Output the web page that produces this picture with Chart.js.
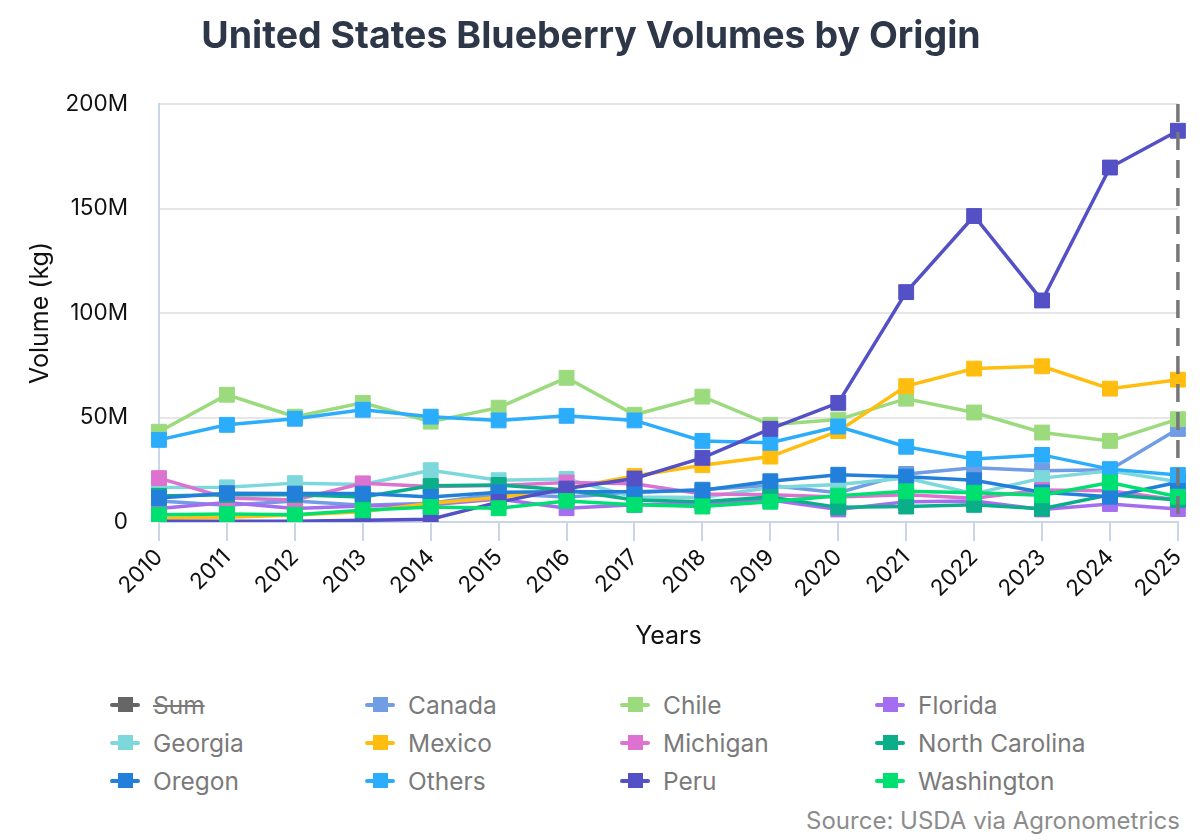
<!DOCTYPE html>
<html>
<head>
<meta charset="utf-8">
<title>United States Blueberry Volumes by Origin</title>
<script src="https://cdn.jsdelivr.net/npm/chart.js@4.4.1/dist/chart.umd.min.js"></script>
<style>
  body { margin: 0; background: #fff; font-family: Inter, "Noto Sans", sans-serif; }
  #wrap { position: relative; width: 1200px; height: 840px; overflow: hidden; }
  #chart { position: absolute; left: 0; top: 0; }
  #legend { position: absolute; left: 110px; top: 686px; display: grid; grid-template-columns: repeat(4, 255px); }
  .item { height: 38px; display: flex; align-items: center; font-size: 24.5px; color: #7a7a7a; white-space: nowrap; }
  .mark { position: relative; width: 30px; height: 4px; border-radius: 2px; margin-right: 13px; flex: none; }
  .mark i { position: absolute; left: 8px; top: -6px; width: 15px; height: 15px; }
  .item.off span { text-decoration: line-through; }
  #source { position: absolute; right: 20px; top: 806px; font-size: 24px; color: #8c8c8c; }
</style>
</head>
<body>
<div id="wrap">
  <canvas id="chart" width="1200" height="665"></canvas>
  <div id="legend"></div>
  <div id="source">Source: USDA via Agronometrics</div>
</div>
<script>
// years on the x axis
var years = ['2010', '2011', '2012', '2013', '2014', '2015', '2016', '2017',
             '2018', '2019', '2020', '2021', '2022', '2023', '2024', '2025'];

// volumes in millions of kg
var canada        = [10, 8, 10, 8, 9, 13.5, 12, 14, 15.5, 17.5, 14, 23, 26, 24.5, 25, 44.5];
var chile         = [43.2, 60.9, 50.4, 57, 48, 54.7, 69, 51.3, 60, 46.5, 49, 59, 52.4, 42.8, 38.8, 49.2];
var florida       = [6.5, 9.3, 6.5, 7.7, 8.2, 11, 6.6, 8.2, 9, 10.5, 6, 9.7, 10, 6, 8.6, 6.2];
var georgia       = [16.5, 16.6, 18.6, 18, 24.8, 20, 20.6, 12, 11.7, 16.5, 18, 21, 13.5, 21, 24.5, 19.3];
var mexico        = [1.8, 2.3, 3.4, 4.9, 9, 11.7, 16, 22, 27.2, 31.3, 43.5, 65, 73.4, 74.5, 63.8, 68.1];
var michigan      = [21, 11.5, 10.5, 18.5, 17, 17.5, 18.9, 18.3, 13.4, 13, 12, 13, 11.4, 15.3, 15, 10.5];
var northCarolina = [12.5, 13, 13, 12, 17.3, 17.7, 15.3, 10.5, 9.7, 12, 7, 7.4, 8.2, 6.4, 13, 10.5];
var oregon        = [11.5, 13.8, 13.6, 13.6, 12, 14.2, 14.5, 14.5, 15.2, 19.5, 22.6, 21.7, 20, 14.2, 12.1, 19];
var others        = [39.3, 46.5, 49.4, 53.7, 50.4, 48.6, 50.8, 48.6, 38.8, 37.9, 45.7, 36, 30.2, 32.1, 25.3, 22.5];
var peru          = [0.3, 0.3, 0.3, 0.8, 1.3, 9.5, 16, 20.8, 30.7, 44.6, 57, 110, 146.4, 106, 169.6, 187.2];
var washington    = [3.5, 3.8, 3.5, 5.6, 7.2, 6.6, 10.1, 8.2, 7.4, 9.7, 12.6, 14.7, 14, 12.8, 18.9, 12.1];

var yTicks = [0, 50, 100, 150, 200];
var markerYear = '2025';

var series = [
  { name: 'Sum', data: [], color: '#666666', hidden: true },
  { name: 'Canada', data: canada, color: '#719de4' },
  { name: 'Chile', data: chile, color: '#9bdb7e' },
  { name: 'Florida', data: florida, color: '#a56ef0' },
  { name: 'Georgia', data: georgia, color: '#7dd8dc' },
  { name: 'Mexico', data: mexico, color: '#ffbe0f' },
  { name: 'Michigan', data: michigan, color: '#de72d0' },
  { name: 'North Carolina', data: northCarolina, color: '#0aae89' },
  { name: 'Oregon', data: oregon, color: '#2380da' },
  { name: 'Others', data: others, color: '#2badfc' },
  { name: 'Peru', data: peru, color: '#5450c6' },
  { name: 'Washington', data: washington, color: '#00e070' }
];

var datasets = series.map(function (s, i) {
  return {
    label: s.name,
    data: s.data,
    hidden: !!s.hidden,
    borderColor: s.color,
    backgroundColor: s.color,
    borderWidth: 3.5,
    pointStyle: 'rect',
    pointRadius: 10.5,
    pointBorderWidth: 1,
    pointBorderColor: s.color,
    pointBackgroundColor: s.color,
    tension: 0,
    order: series.length - i   // later series drawn on top
  };
});

// dashed vertical line at the last year
var markerLine = {
  id: 'markerLine',
  afterDatasetsDraw: function (chart) {
    var x = chart.scales.x.getPixelForValue(years.indexOf(markerYear));
    var area = chart.chartArea;
    var ctx = chart.ctx;
    ctx.save();
    ctx.strokeStyle = '#777777';
    ctx.lineWidth = 3.5;
    ctx.setLineDash([18, 10]);
    ctx.beginPath();
    ctx.moveTo(x, area.top);
    ctx.lineTo(x, area.bottom);
    ctx.stroke();
    ctx.restore();
  }
};

var ctx = document.getElementById('chart').getContext('2d');
var chart = new Chart(ctx, {
  type: 'line',
  data: { labels: years, datasets: datasets },
  options: {
    responsive: false,
    animation: false,
    layout: { padding: { top: 0, right: 18, bottom: 0, left: 0 } },
    plugins: {
      legend: { display: false },
      tooltip: { enabled: false },
      title: {
        display: true,
        text: 'United States Blueberry Volumes by Origin',
        color: '#2d3748',
        font: { family: 'Inter', size: 37.5, weight: 'bold' },
        padding: { top: 14, bottom: 45 }
      }
    },
    scales: {
      x: {
        afterFit: function (scale) { scale.height = 143; },
        border: { color: '#cbd5e8', width: 2 },
        grid: { drawOnChartArea: false, drawTicks: true, tickLength: 19, color: '#cbd5e8', lineWidth: 2 },
        ticks: {
          color: '#111',
          font: { family: 'Inter', size: 22.5 },
          minRotation: 45,
          maxRotation: 45,
          padding: 3,
          autoSkip: false
        },
        title: {
          display: true,
          text: 'Years',
          color: '#111',
          font: { family: 'Inter', size: 25 },
          padding: { top: 0, bottom: 14 }
        }
      },
      y: {
        min: 0,
        max: 200,
        afterFit: function (scale) { scale.width = 159; },
        afterBuildTicks: function (scale) {
          scale.ticks = yTicks.map(function (v) { return { value: v }; });
        },
        border: { color: '#cbd5e8', width: 2 },
        grid: { drawTicks: false, color: '#e6e6e6', lineWidth: 2 },
        ticks: {
          color: '#111',
          font: { family: 'Inter', size: 22.5 },
          padding: 31,
          callback: function (v) { return v === 0 ? '0' : v + 'M'; }
        },
        title: {
          display: true,
          text: 'Volume (kg)',
          color: '#111',
          font: { family: 'Inter', size: 25 },
          padding: { top: 25, bottom: 0 }
        }
      }
    }
  },
  plugins: [markerLine]
});

// legend in a four column grid, like the reference
var legend = document.getElementById('legend');
series.forEach(function (s) {
  var item = document.createElement('div');
  item.className = 'item' + (s.hidden ? ' off' : '');
  var mark = document.createElement('div');
  mark.className = 'mark';
  mark.style.background = s.color;
  var sq = document.createElement('i');
  sq.style.background = s.color;
  mark.appendChild(sq);
  var txt = document.createElement('span');
  txt.textContent = s.name;
  item.appendChild(mark);
  item.appendChild(txt);
  legend.appendChild(item);
});
</script>
</body>
</html>
